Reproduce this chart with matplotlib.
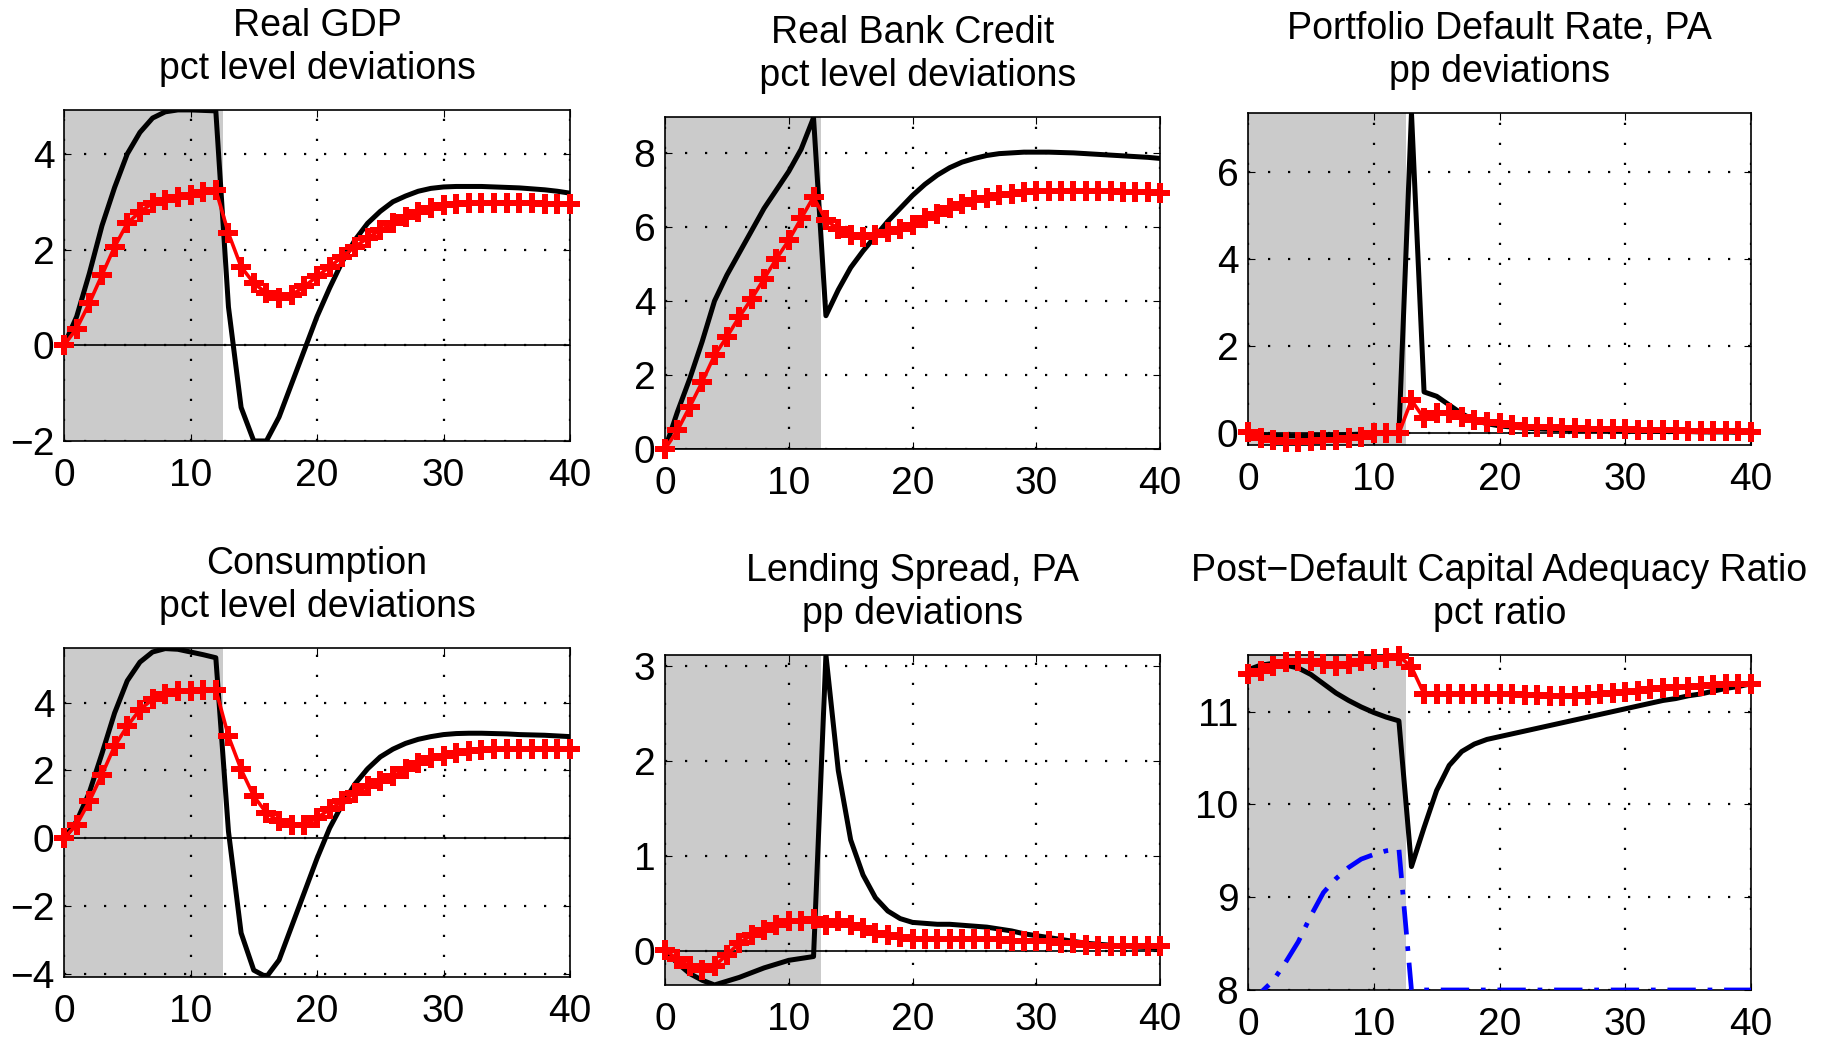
import matplotlib
matplotlib.use('Agg')
import matplotlib.pyplot as plt
import numpy as np

plt.rcParams['font.family'] = ['Liberation Sans', 'DejaVu Sans']

quarters = np.arange(41)
shade_end = 12.6

titles = ['Real GDP\npct level deviations',
          'Real Bank Credit\n pct level deviations',
          'Portfolio Default Rate, PA\npp deviations',
          'Consumption\npct level deviations',
          'Lending Spread, PA\npp deviations',
          'Post\u2212Default Capital Adequacy Ratio\npct ratio']

# black solid line
gdp_black = [0, 0.6, 1.5, 2.5, 3.3, 4.0, 4.45, 4.75, 4.88, 4.92, 4.92, 4.91, 4.9,
             0.8, -1.3, -2.0, -2.0, -1.5, -0.8, -0.1, 0.6, 1.2, 1.75, 2.2, 2.55, 2.8,
             3.0, 3.12, 3.22, 3.28, 3.31, 3.32, 3.32, 3.32, 3.31, 3.3, 3.29, 3.27, 3.25,
             3.22, 3.18]
credit_black = [0, 1.0, 1.9, 2.9, 4.0, 4.7, 5.3, 5.9, 6.5, 7.0, 7.5, 8.1, 8.95,
                3.6, 4.3, 4.9, 5.35, 5.75, 6.15, 6.5, 6.85, 7.15, 7.4, 7.6, 7.75, 7.85,
                7.93, 7.98, 8.0, 8.02, 8.02, 8.02, 8.01, 8.0, 7.98, 7.96, 7.94, 7.92, 7.9,
                7.88, 7.85]
default_black = [0, -0.03, -0.05, -0.06, -0.06, -0.05, -0.05, -0.04, -0.03, -0.02, -0.01, 0, 0,
                 7.36, 0.95, 0.85, 0.65, 0.45, 0.3, 0.22, 0.17, 0.14, 0.12, 0.1, 0.09, 0.08,
                 0.07, 0.07, 0.06, 0.06, 0.05, 0.05, 0.05, 0.04, 0.04, 0.04, 0.03, 0.03, 0.03,
                 0.02, 0.02]
cons_black = [0, 0.5, 1.35, 2.5, 3.7, 4.65, 5.2, 5.5, 5.6, 5.58, 5.5, 5.42, 5.33,
              0.2, -2.8, -3.9, -4.1, -3.6, -2.6, -1.6, -0.6, 0.3, 1.0, 1.6, 2.05, 2.4,
              2.63, 2.8, 2.92, 3.0, 3.06, 3.09, 3.1, 3.1, 3.09, 3.08, 3.06, 3.05, 3.04,
              3.02, 3.0]
spread_black = [0, -0.13, -0.24, -0.31, -0.36, -0.32, -0.28, -0.23, -0.18, -0.14, -0.1, -0.08, -0.06,
                3.12, 1.9, 1.17, 0.8, 0.56, 0.42, 0.34, 0.3, 0.29, 0.28, 0.28, 0.27, 0.26,
                0.25, 0.23, 0.21, 0.18, 0.16, 0.14, 0.12, 0.1, 0.08, 0.07, 0.06, 0.05, 0.04,
                0.035, 0.03]
car_black = [11.45, 11.5, 11.52, 11.5, 11.47, 11.4, 11.3, 11.2, 11.12, 11.05, 10.99, 10.94, 10.9,
             9.33, 9.75, 10.15, 10.42, 10.57, 10.65, 10.7, 10.73, 10.76, 10.79, 10.82, 10.85, 10.88,
             10.91, 10.94, 10.97, 11.0, 11.03, 11.06, 11.09, 11.12, 11.14, 11.17, 11.19, 11.22, 11.25,
             11.27, 11.3]

# red plus markers
gdp_red = [0, 0.35, 0.88, 1.47, 2.06, 2.55, 2.79, 2.97, 3.04, 3.1, 3.14, 3.2, 3.25,
           2.34, 1.64, 1.3, 1.09, 0.98, 1.05, 1.23, 1.44, 1.64, 1.85, 2.06, 2.24, 2.41,
           2.55, 2.69, 2.79, 2.86, 2.93, 2.95, 2.97, 2.97, 2.98, 2.98, 2.97, 2.97, 2.96,
           2.96, 2.95]
credit_red = [0, 0.5, 1.14, 1.81, 2.53, 3.03, 3.57, 4.06, 4.6, 5.14, 5.64, 6.23, 6.81,
              6.18, 5.95, 5.77, 5.73, 5.77, 5.86, 5.95, 6.05, 6.23, 6.36, 6.5, 6.63, 6.72,
              6.77, 6.86, 6.9, 6.95, 6.97, 6.98, 6.98, 6.98, 6.97, 6.97, 6.96, 6.95, 6.94,
              6.93, 6.92]
default_red = [0.04, -0.11, -0.15, -0.19, -0.2, -0.18, -0.15, -0.15, -0.11, -0.08, 0, 0, 0,
               0.76, 0.34, 0.46, 0.46, 0.38, 0.3, 0.27, 0.23, 0.19, 0.15, 0.15, 0.15, 0.11,
               0.11, 0.1, 0.1, 0.09, 0.09, 0.08, 0.08, 0.07, 0.07, 0.06, 0.06, 0.05, 0.05,
               0.05, 0.04]
cons_red = [0, 0.4, 1.09, 1.88, 2.72, 3.31, 3.8, 4.1, 4.25, 4.34, 4.34, 4.39, 4.39,
            3.01, 2.03, 1.24, 0.75, 0.5, 0.4, 0.4, 0.6, 0.85, 1.09, 1.34, 1.54, 1.68,
            1.83, 2.03, 2.23, 2.37, 2.42, 2.52, 2.57, 2.6, 2.62, 2.62, 2.62, 2.62, 2.62,
            2.62, 2.62]
spread_red = [0.01, -0.09, -0.16, -0.2, -0.16, -0.04, 0.08, 0.17, 0.22, 0.27, 0.31, 0.31, 0.34,
              0.27, 0.31, 0.27, 0.24, 0.19, 0.17, 0.15, 0.13, 0.13, 0.13, 0.13, 0.12, 0.12,
              0.12, 0.12, 0.1, 0.1, 0.1, 0.1, 0.08, 0.08, 0.06, 0.05, 0.05, 0.05, 0.05,
              0.05, 0.05]
car_red = [11.41, 11.44, 11.49, 11.53, 11.55, 11.55, 11.51, 11.49, 11.51, 11.55, 11.57, 11.58, 11.6,
           11.48, 11.19, 11.19, 11.19, 11.19, 11.19, 11.19, 11.19, 11.19, 11.18, 11.18, 11.17, 11.17,
           11.17, 11.18, 11.19, 11.2, 11.21, 11.22, 11.24, 11.25, 11.26, 11.27, 11.28, 11.29, 11.3,
           11.3, 11.3]

# blue dash-dot (last panel only)
car_blue = [7.85, 7.97, 8.1, 8.3, 8.52, 8.8, 9.05, 9.2, 9.32, 9.41, 9.46, 9.5, 9.52,
            8.0] + [8.0] * 27

blacks = [gdp_black, credit_black, default_black, cons_black, spread_black, car_black]
reds = [gdp_red, credit_red, default_red, cons_red, spread_red, car_red]
ylims = [(-2, 4.92), (0, 8.97), (-0.27, 7.36), (-4.1, 5.62), (-0.36, 3.12), (8, 11.61)]
yticks = [[-2, 0, 2, 4], [0, 2, 4, 6, 8], [0, 2, 4, 6], [-4, -2, 0, 2, 4], [0, 1, 2, 3], [8, 9, 10, 11]]
zero_line = [True, True, True, True, True, False]

# axes boxes [left, bottom, width, height] in figure fractions
boxes = [[0.0351, 0.5756, 0.2774, 0.3186],
         [0.3646, 0.5679, 0.2714, 0.3195],
         [0.6842, 0.5717, 0.2758, 0.3195],
         [0.0351, 0.0597, 0.2774, 0.3167],
         [0.3646, 0.0520, 0.2714, 0.3176],
         [0.6842, 0.0472, 0.2758, 0.3224]]

fig = plt.figure(figsize=(18.24, 10.39), dpi=100)

for i in range(6):
    ax = fig.add_axes(boxes[i])
    ax.axvspan(0, shade_end, color='#cbcbcb', lw=0, zorder=0)
    if zero_line[i]:
        ax.axhline(0, color='black', lw=1.2, zorder=1)
    ax.plot(quarters, blacks[i], color='black', lw=3.6, zorder=3)
    if i == 5:
        ax.plot(quarters, car_blue, color='blue', lw=3.4, ls=(0, (6, 2.5, 1, 2.5)), zorder=3)
    ax.plot(quarters, reds[i], color='red', lw=2.6, marker='P', markersize=15,
            markeredgewidth=0, zorder=4, clip_on=False)
    ax.set_xlim(0, 40)
    ax.set_ylim(*ylims[i])
    ax.set_xticks([0, 10, 20, 30, 40])
    ax.set_yticks(yticks[i])
    ax.grid(True, color='black', ls=(0, (1, 8)), lw=1.6)
    ax.tick_params(direction='in', top=True, right=True, length=5, labelsize=28)
    ax.tick_params(axis='x', pad=12)
    ax.tick_params(axis='y', pad=7)
    for sp in ax.spines.values():
        sp.set_linewidth(1.2)
    ax.set_title(titles[i], fontsize=27, pad=22, linespacing=1.25)

plt.savefig('out.png', dpi=100)
